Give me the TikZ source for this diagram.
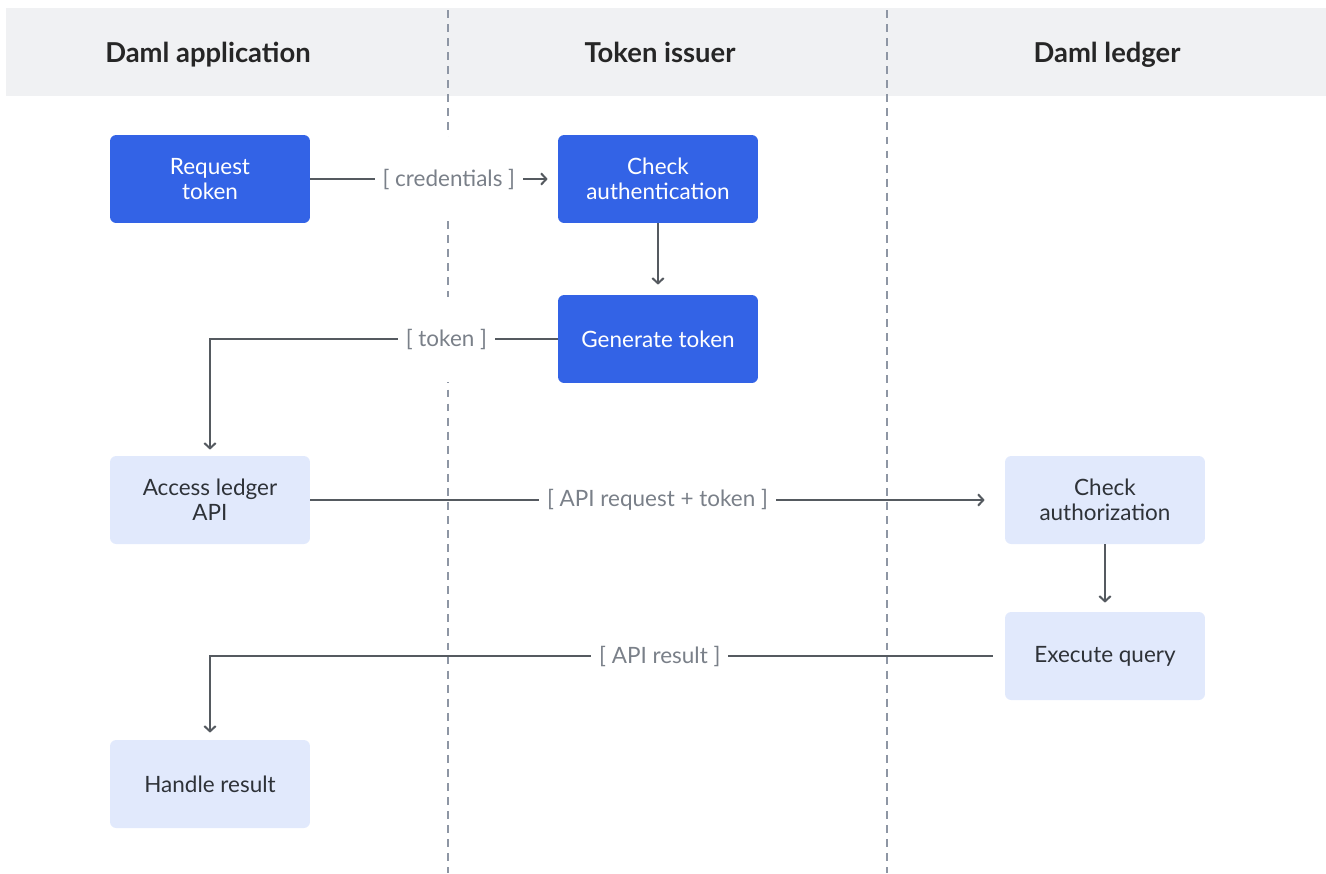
\documentclass[tikz,border=0pt]{standalone}
\usepackage{fontspec}
\setsansfont{Lato}
\usetikzlibrary{positioning, arrows.meta}

\begin{document}
\begin{tikzpicture}[font=\sffamily, x=0.02cm, y=-0.02cm]

    % Define colors
    \definecolor{bandcolor}{HTML}{F0F1F3}
    \definecolor{issuercolor}{HTML}{3363E6}
    \definecolor{ledgercolor}{HTML}{E1E9FC}
    \definecolor{linecolor}{HTML}{555A60}
    \definecolor{lanecolor}{HTML}{8E96A4}
    \definecolor{labelcolor}{HTML}{7A8089}
    \definecolor{textcolor}{HTML}{2E3238}

    \tikzset{
        step box/.style={rounded corners=3.5pt, minimum width=4cm, minimum height=1.76cm,
            align=center, font=\fontsize{12.8}{14.4}\selectfont\sffamily},
        dark box/.style={step box, fill=issuercolor, text=white},
        light box/.style={step box, fill=ledgercolor, text=textcolor},
        header/.style={anchor=base, font=\fontsize{15.6}{18}\selectfont\sffamily\bfseries, text=black!85},
        flow/.style={draw=linecolor, line width=1.15pt, -{Straight Barb[length=3pt,width=6.5pt]}},
        msg/.style={fill=white, text=labelcolor, inner xsep=0.16cm, minimum height=1.7cm,
            font=\fontsize{12.8}{14.4}\selectfont\sffamily},
        lane/.style={draw=lanecolor, line width=0.8pt, dash pattern=on 4.5pt off 3.5pt}
    }

    \useasboundingbox (0,0) rectangle (1326,873);

    % ===== HEADER BAND =====
    \fill[bandcolor] (6,8) rectangle (1326,96);

    % swim lane separators
    \draw[lane] (448,10) -- (448,873);
    \draw[lane] (887,10) -- (887,873);

    \node[header] (hdrapp) at (208,62) {Daml application};
    \node[header] (hdrissuer) at (660,62) {Token issuer};
    \node[header] (hdrledger) at (1107,62) {Daml ledger};

    % ===== STEPS =====
    \node[dark box] (reqtok) at (210,179) {Request\\token};
    \node[dark box] (checkauthn) at (658,179) {Check\\authentication};
    \node[dark box] (gentok) at (658,339) {Generate token};
    \node[light box] (accessapi) at (210,500) {Access ledger\\API};
    \node[light box] (checkauthz) at (1105,500) {Check\\authorization};
    \node[light box] (execquery) at (1105,656) {Execute query};
    \node[light box] (handleres) at (210,784) {Handle result};

    % ===== MESSAGES =====
    \draw[flow, shorten >=0.2cm] (reqtok) -- node[msg, pos=0.56] {[ credentials ]} (checkauthn);
    \draw[flow, shorten >=0.2cm] (checkauthn) -- (gentok);
    \draw[flow, shorten >=0.12cm] (gentok.west) -| node[msg, pos=0.16] {[ token ]} (accessapi.north);
    \draw[flow, shorten >=0.4cm] (accessapi) -- node[msg] {[ API request + token ]} (checkauthz);
    \draw[flow, shorten >=0.18cm] (checkauthz) -- (execquery);
    \draw[flow, shorten <=0.24cm, shorten >=0.14cm] (execquery.west) -| node[msg, pos=0.217] {[ API result ]} (handleres.north);

\end{tikzpicture}
\end{document}
